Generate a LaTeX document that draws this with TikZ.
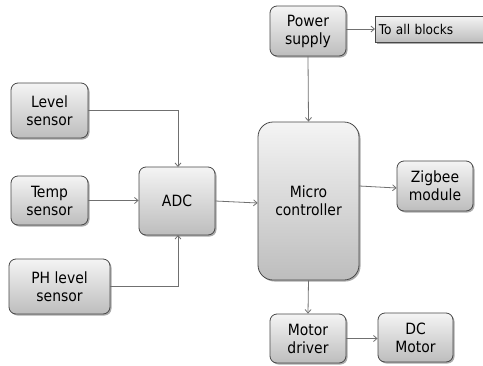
\documentclass[tikz,border=0pt]{standalone}
\usepackage{fontspec}
\setmainfont{DejaVu Sans Condensed}
\usetikzlibrary{arrows.meta,shadows}
\definecolor{boxtop}{HTML}{F4F4F4}
\definecolor{boxbot}{HTML}{BDBDBD}
\definecolor{edge}{HTML}{484848}
\definecolor{wire}{HTML}{707070}
\tikzset{
  blk/.style={draw=edge, line width=0.8pt, rounded corners=7pt, top color=boxtop, bottom color=boxbot,
    drop shadow={shadow xshift=1.5pt, shadow yshift=-1.5pt, fill=black!55, opacity=0.6},
    align=center, font=\fontsize{15.5}{18}\selectfont, inner sep=0pt},
  wireline/.style={draw=wire, line width=0.8pt, -{Straight Barb[length=3.5pt,width=6pt]}}
}
\begin{document}
\begin{tikzpicture}[x=1pt,y=-1pt]
\useasboundingbox (0,0) rectangle (483,365);
\node[blk, minimum width=76pt, minimum height=50pt] (ps) at (308,31) {Power\\supply};
\node[draw=edge, line width=0.8pt, top color=boxtop, bottom color=boxbot, anchor=west,
  drop shadow={shadow xshift=1.5pt, shadow yshift=-1.5pt, fill=black!55, opacity=0.6},
  minimum width=115pt, minimum height=26pt, inner sep=3pt, text width=108pt, align=left,
  font=\fontsize{13.5}{16}\selectfont] (all) at (375,29) {To all blocks};
\node[blk, minimum width=77pt, minimum height=55pt] (lvl) at (49.5,110.5) {Level\\sensor};
\node[blk, minimum width=77pt, minimum height=49pt] (tmp) at (49.5,200.5) {Temp\\sensor};
\node[blk, minimum width=101pt, minimum height=55pt] (ph) at (59.5,286.5) {PH level\\sensor};
\node[blk, minimum width=76pt, minimum height=68pt] (adc) at (177,201) {ADC};
\node[blk, rounded corners=15pt, minimum width=101pt, minimum height=158pt] (mc) at (308.5,201) {Micro\\controller};
\node[blk, minimum width=76pt, minimum height=50pt] (zig) at (435,186) {Zigbee\\module};
\node[blk, minimum width=76pt, minimum height=49pt] (md) at (308,338.5) {Motor\\driver};
\node[blk, minimum width=75pt, minimum height=49pt] (dc) at (415.5,337.5) {DC\\Motor};
\coordinate (adctop) at (178,167);
\coordinate (adcbot) at (178,235);
\draw[wireline] (lvl.east) -| (adctop);
\draw[wireline] (tmp.east) -- (adc.west |- tmp.east);
\draw[wireline] (ph.east) -| (adcbot);
\draw[wireline] (adc.east) -- (mc.west |- 0,203);
\draw[wireline] (ps.south) -- (mc.north);
\draw[wireline] (ps.east |- all.west) -- (all.west);
\draw[wireline] (mc.east |- zig.west) -- ([yshift=-2pt]zig.west);
\draw[wireline] (mc.south) -- (md.north);
\draw[wireline] (md.east) -- (dc.west |- md.east);
\end{tikzpicture}
\end{document}
